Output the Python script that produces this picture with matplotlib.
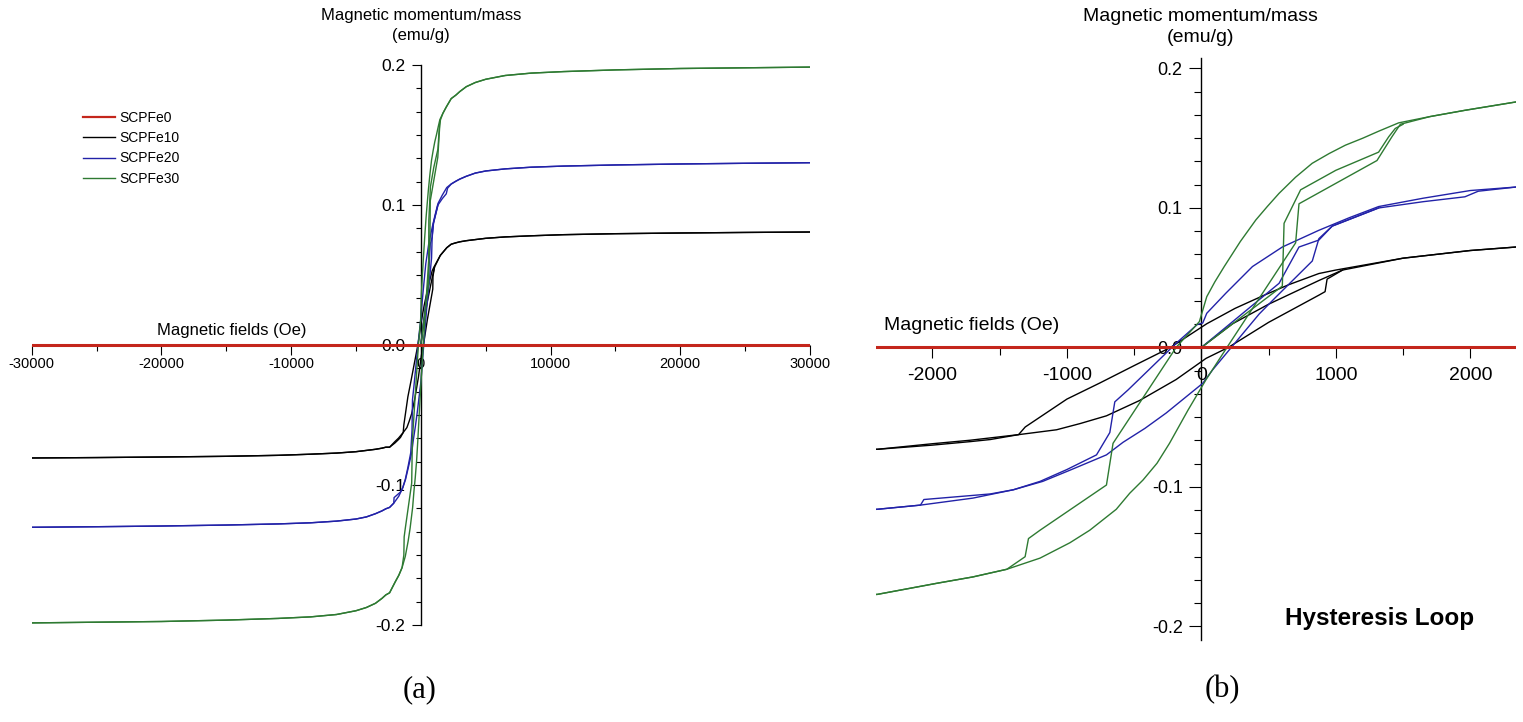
import matplotlib
matplotlib.use("Agg")
import matplotlib.pyplot as plt
from matplotlib.ticker import MultipleLocator

plt.rcParams['font.family'] = ['Liberation Sans', 'DejaVu Sans']
plt.rcParams['axes.unicode_minus'] = False

# high-field part (positive side, the negative side is the mirror image)
hi_H = [2700, 3000, 3500, 4200, 5000, 6500, 8500, 11000, 15000, 20000, 25000, 30000]
hi_M10 = [0.0730, 0.0737, 0.0745, 0.0753, 0.0762, 0.0772, 0.0780, 0.0788, 0.0795, 0.0800, 0.0804, 0.0807]
hi_M20 = [0.117, 0.1185, 0.1205, 0.1228, 0.1243, 0.1258, 0.127, 0.1278, 0.1286, 0.1293, 0.1298, 0.1302]
hi_M30 = [0.1785, 0.181, 0.1845, 0.1875, 0.1898, 0.1925, 0.1942, 0.1953, 0.1965, 0.1975, 0.198, 0.1985]

# low-field readings (Oe, emu/g)
# SCPFe10
desc10_H = [2340, 2000, 1500, 1000, 874, 650, 456, 250, 40, -230, -500, -756, -1000, -1310, -1360, -1570, -1720, -2000, -2410]
desc10_M = [0.072, 0.0695, 0.064, 0.0555, 0.053, 0.045, 0.037, 0.028, 0.017, 0.0, -0.013, -0.0255, -0.037, -0.057, -0.0625, -0.066, -0.0675, -0.070, -0.073]
asc10_H = [-2410, -2000, -1720, -1360, -1077, -900, -706, -459, -188, 35, 200, 500, 874, 920, 935, 1050, 1500, 2000, 2340]
asc10_M = [-0.073, -0.069, -0.0665, -0.0625, -0.059, -0.0545, -0.049, -0.038, -0.023, -0.0078, 0.0, 0.018, 0.0375, 0.040, 0.049, 0.0555, 0.064, 0.0695, 0.072]
virgin10_H = [0, 232, 500, 874, 1050]
virgin10_M = [0, 0.017, 0.031, 0.048, 0.0555]

# SCPFe20
desc20_H = [2340, 2000, 1650, 1318, 1100, 874, 602, 380, 183, 40, 10, -30, -188, -262, -546, -644, -681, -780, -1000, -1200, -1398, -1570, -2064, -2089, -2410]
desc20_M = [0.115, 0.1125, 0.107, 0.101, 0.093, 0.084, 0.072, 0.058, 0.039, 0.0245, 0.0175, 0.0165, 0.003, -0.004, -0.0305, -0.039, -0.061, -0.077, -0.0875, -0.096, -0.102, -0.105, -0.109, -0.113, -0.116]
asc20_H = [-2410, -2089, -1700, -1398, -1180, -978, -706, -583, -420, -262, 10, 84, 430, 553, 825, 874, 973, 1318, 1650, 1960, 2059, 2340]
asc20_M = [-0.116, -0.113, -0.108, -0.102, -0.096, -0.088, -0.077, -0.068, -0.058, -0.047, -0.0257, -0.016, 0.024, 0.036, 0.062, 0.078, 0.087, 0.100, 0.1045, 0.108, 0.112, 0.115]
virgin20_H = [0, 578, 726, 874, 973, 1318]
virgin20_M = [0, 0.046, 0.072, 0.077, 0.087, 0.100]

# SCPFe30
desc30_H = [2340, 1960, 1700, 1467, 1318, 1200, 1071, 950, 824, 700, 578, 490, 405, 290, 170, 100, 40, -15, -138, -188, -657, -706, -1200, -1286, -1311, -1447, -1700, -1965, -2410]
desc30_M = [0.176, 0.170, 0.1655, 0.161, 0.155, 0.150, 0.145, 0.139, 0.132, 0.122, 0.1105, 0.101, 0.0914, 0.076, 0.058, 0.047, 0.0364, 0.0185, 0.0054, 0.0, -0.0687, -0.0986, -0.131, -0.137, -0.150, -0.159, -0.1645, -0.169, -0.177]
asc30_H = [-2410, -1965, -1700, -1447, -1200, -978, -830, -633, -533, -434, -330, -237, -100, 35, 190, 701, 726, 1306, 1417, 1480, 1700, 1960, 2340]
asc30_M = [-0.177, -0.169, -0.1645, -0.159, -0.151, -0.140, -0.131, -0.116, -0.1045, -0.095, -0.083, -0.0687, -0.045, -0.023, 0.0, 0.075, 0.103, 0.134, 0.151, 0.160, 0.1655, 0.170, 0.176]
virgin30_H = [0, 602, 615, 738, 1000, 1318, 1393, 1442, 1500]
virgin30_M = [0, 0.044, 0.089, 0.113, 0.127, 0.140, 0.151, 0.157, 0.160]

# SCPFe0 shows no moment
sc0_H = [-30000, 30000]
sc0_M = [0.0, 0.0]

names = ['SCPFe0', 'SCPFe10', 'SCPFe20', 'SCPFe30']
colors = ['#c4261c', '#000000', '#2222a8', '#2e7a32']


def full_branches(dH, dM, aH, aM, vH, vM, hiM):
    neg_H = [-h for h in hi_H]
    neg_M = [-m for m in hiM]
    down_H = hi_H[::-1] + dH + neg_H
    down_M = hiM[::-1] + dM + neg_M
    up_H = neg_H[::-1] + aH + hi_H
    up_M = neg_M[::-1] + aM + hiM
    return [(vH, vM), (down_H, down_M), (up_H, up_M)]


series = [
    full_branches(desc10_H, desc10_M, asc10_H, asc10_M, virgin10_H, virgin10_M, hi_M10),
    full_branches(desc20_H, desc20_M, asc20_H, asc20_M, virgin20_H, virgin20_M, hi_M20),
    full_branches(desc30_H, desc30_M, asc30_H, asc30_M, virgin30_H, virgin30_M, hi_M30),
]

W, H = 1523, 722
fig = plt.figure(figsize=(W / 100, H / 100), dpi=100)


def fx(px):
    return px / W


def fy(py):
    return 1 - py / H


ax1 = fig.add_axes([fx(31.7), fy(625), (810 - 31.7) / W, 560 / H])
ax2 = fig.add_axes([fx(876), fy(640), 640 / W, 582 / H])

for ax in (ax1, ax2):
    handles = []
    l0, = ax.plot(sc0_H, sc0_M, color=colors[0], lw=2.2, zorder=4, label=names[0])
    handles.append(l0)
    for k, branches in enumerate(series):
        for j, (bx, by) in enumerate(branches):
            ln, = ax.plot(bx, by, color=colors[k + 1], lw=1.0, zorder=3,
                          label=names[k + 1] if j == 1 else None)
            if j == 1:
                handles.append(ln)
    for s in ('top', 'right'):
        ax.spines[s].set_visible(False)
    ax.spines['left'].set_position(('data', 0))
    ax.spines['bottom'].set_position(('data', 0))
    ax.spines['bottom'].set_color('none')
    ax.spines['left'].set_linewidth(1.0)
    ax.yaxis.set_major_locator(MultipleLocator(0.1))
    ax.yaxis.set_minor_locator(MultipleLocator(0.1 / 6))
    ax.yaxis.set_major_formatter(plt.FormatStrFormatter('%.1f'))
    ax.patch.set_alpha(0)

# panel (a)
ax1.set_xlim(-30000, 30000)
ax1.set_ylim(-0.2, 0.2)
ax1.xaxis.set_major_locator(MultipleLocator(10000))
ax1.xaxis.set_minor_locator(MultipleLocator(5000))
ax1.tick_params(axis='x', which='major', length=7, width=0.8, labelsize=10.5, pad=2)
ax1.tick_params(axis='x', which='minor', length=4, width=0.8)
ax1.tick_params(axis='y', which='major', length=6.5, width=0.8, labelsize=12.5, pad=4.5)
ax1.tick_params(axis='y', which='minor', length=3.5, width=0.8)

leg = ax1.legend(handles=handles, loc='upper left', frameon=False, fontsize=10,
                 bbox_to_anchor=(fx(83), fy(111)), bbox_transform=fig.transFigure,
                 borderpad=0, borderaxespad=0, handlelength=2.3, handletextpad=0.3,
                 labelspacing=0.45)
leg.get_lines()[0].set_linewidth(1.6)

# panel (b)
ax2.set_xlim(-2420, 2340)
ax2.set_ylim(-0.2097, 0.2075)
ax2.xaxis.set_major_locator(MultipleLocator(1000))
ax2.xaxis.set_minor_locator(MultipleLocator(500))
ax2.tick_params(axis='x', which='major', length=8, width=0.8, labelsize=14, pad=6)
ax2.tick_params(axis='x', which='minor', length=6, width=0.8)
ax2.tick_params(axis='y', which='major', length=8.5, width=0.8, labelsize=13, pad=5)
ax2.tick_params(axis='y', which='minor', length=5, width=0.8)

# axis titles
fig.text(fx(421), fy(25.5), 'Magnetic momentum/mass\n(emu/g)', ha='center', va='center',
         fontsize=12, linespacing=1.35)
fig.text(fx(232), fy(330), 'Magnetic fields (Oe)', ha='center', va='center', fontsize=12)
fig.text(fx(1200), fy(27), 'Magnetic momentum/mass\n(emu/g)', ha='center', va='center',
         fontsize=14, linespacing=1.25)
fig.text(fx(972), fy(325), 'Magnetic fields (Oe)', ha='center', va='center', fontsize=14)
fig.text(fx(1380), fy(618), 'Hysteresis Loop', ha='center', va='center', fontsize=17.5,
         fontweight='bold')

fig.text(fx(420), fy(690), '(a)', ha='center', va='center', fontsize=22,
         family=['Liberation Serif', 'DejaVu Serif'])
fig.text(fx(1222), fy(690), '(b)', ha='center', va='center', fontsize=22,
         family=['Liberation Serif', 'DejaVu Serif'])

fig.savefig('out.png', dpi=100)
